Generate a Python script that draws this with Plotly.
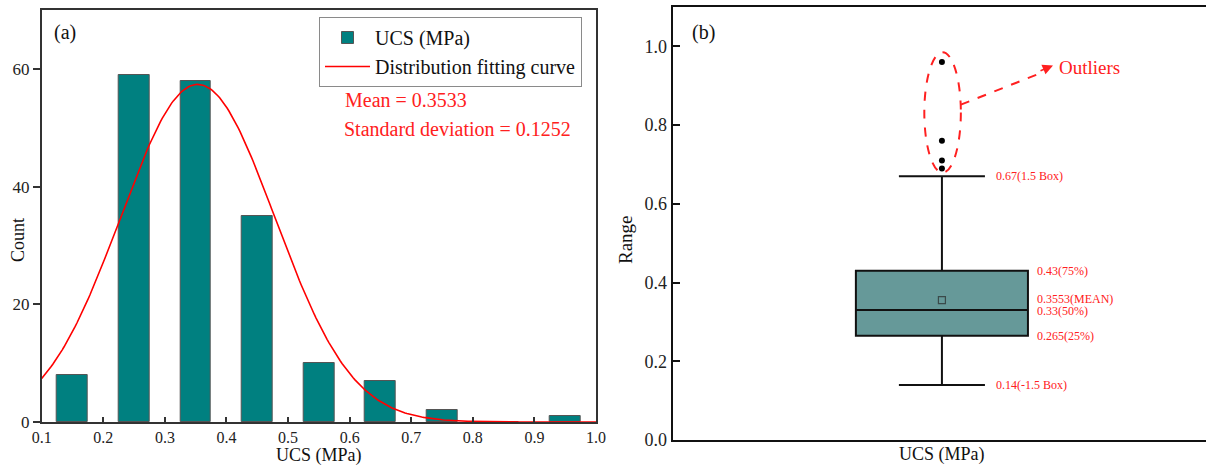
import numpy as np
import plotly.graph_objects as go

# ---- Panel (a): histogram of UCS with fitted normal curve ----
bin_centers = [0.15, 0.25, 0.35, 0.45, 0.55, 0.65, 0.75, 0.85, 0.95]
counts = [8, 59, 58, 35, 10, 7, 2, 0, 1]
bin_width = 0.1
fit_mean = 0.3533
fit_std = 0.1252

# ---- Panel (b): box plot statistics of UCS ----
box_category = "UCS (MPa)"
box_lowerfence = 0.14
box_q1 = 0.265
box_median = 0.33
box_q3 = 0.43
box_upperfence = 0.67
box_mean = 0.3553
outliers = [0.69, 0.71, 0.76, 0.96]

SERIF = "Liberation Serif, Times New Roman, serif"
TEAL = "#008080"
BOX_FILL = "#669999"
RED = "#ff2020"
W, H = 1206, 466

fig = go.Figure()

# histogram bars (half the bin width, centred in each bin)
fig.add_trace(go.Bar(
    x=bin_centers, y=counts, width=bin_width / 2,
    marker=dict(color=TEAL, line=dict(color="#555555", width=1)),
    name="UCS (MPa)", xaxis="x", yaxis="y",
))

# normal distribution curve scaled to counts per bin
n_total = sum(counts)
xc = np.linspace(0.1, 1.0, 300)
yc = n_total * bin_width / (fit_std * np.sqrt(2 * np.pi)) * np.exp(-0.5 * ((xc - fit_mean) / fit_std) ** 2)
fig.add_trace(go.Scatter(
    x=xc, y=yc, mode="lines", line=dict(color="#ff0000", width=1.6),
    name="Distribution fitting curve", xaxis="x", yaxis="y",
))

# box plot from precomputed statistics
fig.add_trace(go.Box(
    x=[0], q1=[box_q1], median=[box_median], q3=[box_q3],
    lowerfence=[box_lowerfence], upperfence=[box_upperfence],
    width=0.645, whiskerwidth=0.5, fillcolor=BOX_FILL,
    line=dict(color="#111111", width=2), boxpoints=False,
    showlegend=False, xaxis="x2", yaxis="y2", hoverinfo="skip",
))

# mean marker
fig.add_trace(go.Scatter(
    x=[0], y=[box_mean], mode="markers",
    marker=dict(symbol="square-open", size=7, color="#3a4a4a", line=dict(width=1.2)),
    showlegend=False, xaxis="x2", yaxis="y2",
))

# outliers
fig.add_trace(go.Scatter(
    x=[0] * len(outliers), y=outliers, mode="markers",
    marker=dict(symbol="circle", size=6, color="black"),
    showlegend=False, xaxis="x2", yaxis="y2",
))

# value labels next to the box
box_labels = [
    (f"{box_upperfence}(1.5 Box)", 0.195, box_upperfence),
    (f"{box_q3}(75%)", 0.349, box_q3),
    (f"{box_mean}(MEAN)", 0.349, box_mean + 0.004),
    (f"{box_median}(50%)", 0.349, box_median - 0.002),
    (f"{box_q1}(25%)", 0.349, box_q1),
    (f"{box_lowerfence}(-1.5 Box)", 0.195, box_lowerfence),
]

annotations = []
for text, xpos, ypos in box_labels:
    annotations.append(dict(
        x=xpos, y=ypos, xref="x2", yref="y2", text=text, showarrow=False,
        xanchor="left", yanchor="middle", font=dict(family=SERIF, size=12, color=RED),
    ))

# panel tags, axis titles and fit statistics
annotations += [
    dict(x=52 / W, y=1 - 33 / H, xref="paper", yref="paper", text="(a)", showarrow=False,
         xanchor="left", yanchor="middle", font=dict(family=SERIF, size=20, color="#111111")),
    dict(x=690 / W, y=1 - 33 / H, xref="paper", yref="paper", text="(b)", showarrow=False,
         xanchor="left", yanchor="middle", font=dict(family=SERIF, size=20, color="#111111")),
    dict(x=18 / W, y=1 - 240 / H, xref="paper", yref="paper", text="Count", showarrow=False,
         textangle=-90, xanchor="center", yanchor="middle",
         font=dict(family=SERIF, size=18, color="#111111")),
    dict(x=319 / W, y=1 - 455 / H, xref="paper", yref="paper", text="UCS (MPa)", showarrow=False,
         xanchor="center", yanchor="middle", font=dict(family=SERIF, size=18, color="#111111")),
    dict(x=0, y=1 - 454 / H, xref="x2", yref="paper", text=box_category, showarrow=False,
         xanchor="center", yanchor="middle", font=dict(family=SERIF, size=18, color="#111111")),
    dict(x=625 / W, y=1 - 240 / H, xref="paper", yref="paper", text="Range", showarrow=False,
         textangle=-90, xanchor="center", yanchor="middle",
         font=dict(family=SERIF, size=19, color="#111111")),
    dict(x=343 / W, y=1 - 100 / H, xref="paper", yref="paper", text=f"Mean = {fit_mean}", showarrow=False,
         xanchor="left", yanchor="middle", font=dict(family=SERIF, size=20, color=RED)),
    dict(x=342 / W, y=1 - 129 / H, xref="paper", yref="paper", text=f"Standard deviation = {fit_std}",
         showarrow=False, xanchor="left", yanchor="middle", font=dict(family=SERIF, size=20, color=RED)),
    # "Outliers" callout
    dict(x=0.432, y=0.9466, xref="x2", yref="y2", text="Outliers", showarrow=False,
         xanchor="left", yanchor="middle", font=dict(family=SERIF, size=19, color=RED)),
    dict(x=0.4165, y=0.9517, xref="x2", yref="y2", text="", showarrow=True,
         ax=-14, ay=6, arrowhead=2, arrowsize=1.3, arrowwidth=1.6, arrowcolor=RED),
]

shapes = [
    # dashed ellipse around the outliers
    dict(type="circle", xref="x2", yref="y2", x0=-0.066, x1=0.071, y0=0.679, y1=0.985,
         line=dict(color=RED, width=2, dash="dash")),
    # dashed leader line toward the label
    dict(type="line", xref="x2", yref="y2", x0=0.071, y0=0.852, x1=0.37, y1=0.932,
         line=dict(color=RED, width=2, dash="dash")),
]

fig.update_layout(
    width=W, height=H,
    margin=dict(l=0, r=0, t=0, b=0, autoexpand=False),
    paper_bgcolor="white", plot_bgcolor="white",
    font=dict(family=SERIF, color="#111111"),
    bargap=0,
    showlegend=True,
    legend=dict(
        x=319 / W, y=1 - 17 / H, xanchor="left", yanchor="top",
        bgcolor="white", bordercolor="#8a8a8a", borderwidth=1,
        font=dict(family=SERIF, size=20, color="#111111"),
        itemwidth=45, tracegroupgap=0,
    ),
    xaxis=dict(
        domain=[41.7 / W, 596 / W], range=[0.1, 1.0], anchor="y", automargin=False,
        tickmode="array", tickvals=[0.1, 0.2, 0.3, 0.4, 0.5, 0.6, 0.7, 0.8, 0.9, 1.0],
        ticktext=["0.1", "0.2", "0.3", "0.4", "0.5", "0.6", "0.7", "0.8", "0.9", "1.0"],
        ticks="inside", ticklen=5, tickwidth=1.5, tickcolor="#333333",
        showline=True, linecolor="#333333", linewidth=1.5, mirror=True,
        showgrid=False, zeroline=False,
        tickfont=dict(family=SERIF, size=16, color="#222222"),
    ),
    yaxis=dict(
        domain=[1 - 422 / H, 1 - 10 / H], range=[0, 70], anchor="x", automargin=False,
        tickvals=[0, 20, 40, 60], ticks="outside", ticklen=7, tickwidth=1.5, tickcolor="#333333",
        showline=True, linecolor="#333333", linewidth=1.5, mirror=True,
        showgrid=False, zeroline=False,
        tickfont=dict(family=SERIF, size=17, color="#222222"),
    ),
    xaxis2=dict(
        domain=[672.5 / W, 1.0], range=[-1.01, 0.99], anchor="y2", automargin=False,
        showticklabels=False, ticks="",
        showline=True, linecolor="#111111", linewidth=2, mirror=True,
        showgrid=False, zeroline=False,
    ),
    yaxis2=dict(
        domain=[1 - 440 / H, 1 - 7 / H], range=[0, 1.1], anchor="x2", automargin=False,
        tickvals=[0, 0.2, 0.4, 0.6, 0.8, 1.0],
        ticktext=["0.0", "0.2", "0.4", "0.6", "0.8", "1.0"],
        ticks="inside", ticklen=7, tickwidth=2, tickcolor="#111111",
        showline=True, linecolor="#111111", linewidth=2, mirror=False,
        showgrid=False, zeroline=False,
        tickfont=dict(family=SERIF, size=18, color="#222222"),
    ),
    annotations=annotations,
    shapes=shapes,
)

fig.write_html("out.html")
